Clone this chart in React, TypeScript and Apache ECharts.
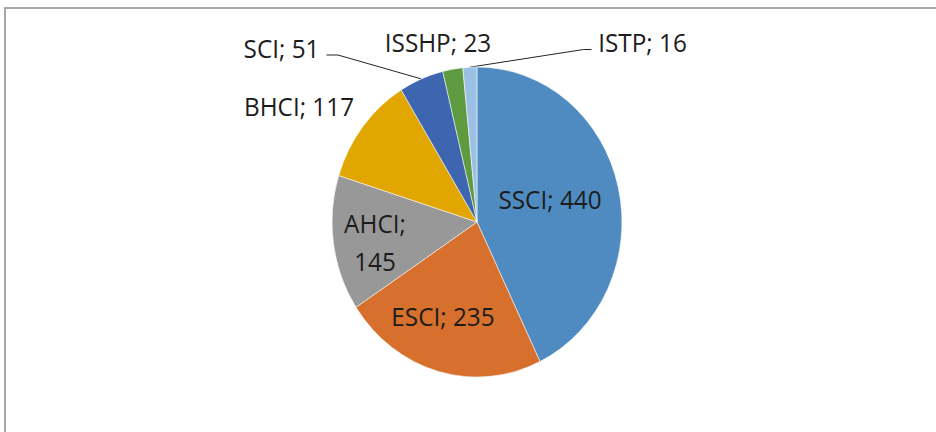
import React, { useEffect, useRef } from "react";
import * as echarts from "echarts";

// ---- data ----
const categories = ["SSCI", "ESCI", "AHCI", "BHCI", "SCI", "ISSHP", "ISTP"];
const values = [440, 235, 145, 117, 51, 23, 16];
const colors = ["#4f8bc0", "#d6702c", "#989898", "#e2a600", "#3d65b0", "#5d9a40", "#9cc0e4"];
const insideLabels = ["SSCI", "ESCI", "AHCI"];
const wrappedLabels = ["AHCI"];
const leaderLines = ["SCI", "ISTP"];

// ---- layout (page pixels) ----
const PAGE_W = 936;
const PAGE_H = 432;
const SX = 0.935; // horizontal squeeze of the original picture
const CENTER_PAGE_X = 477;
const CENTER_Y = 222;
const RADIUS = 155;

// label anchor points (page px) and leader line bends
const labelSpots: Record<string, { x: number; y: number; line?: number[][] }> = {
  SSCI: { x: 550, y: 199 },
  ESCI: { x: 443, y: 316 },
  AHCI: { x: 375, y: 241.5 },
  BHCI: { x: 299, y: 106 },
  SCI: { x: 281.5, y: 47.5, line: [[338, 55], [326.5, 55]] },
  ISSHP: { x: 438, y: 41.7 },
  ISTP: { x: 642.5, y: 41.7, line: [[583.5, 49.5], [591.5, 49.5]] },
};

export default function App() {
  const ref = useRef<HTMLDivElement>(null);

  useEffect(() => {
    document.body.style.margin = "0";
    if (!ref.current) return;
    const chart = echarts.init(ref.current, undefined, { renderer: "svg" });
    const total = values.reduce((a, b) => a + b, 0);
    const cx = CENTER_PAGE_X / SX;

    const data = categories.map((name, i) => {
      const inside = insideLabels.includes(name);
      return {
        name,
        value: values[i],
        itemStyle: { color: colors[i] },
        label: { position: inside ? "inside" : "outside" },
        labelLine: { show: leaderLines.includes(name) },
      };
    });

    chart.setOption({
      animation: false,
      backgroundColor: "#ffffff",
      series: [
        {
          type: "pie",
          center: [cx, CENTER_Y],
          radius: RADIUS,
          startAngle: 90,
          clockwise: true,
          avoidLabelOverlap: false,
          data,
          itemStyle: { borderColor: "rgba(255,255,255,0.55)", borderWidth: 1 },
          label: {
            show: true,
            color: "#1c1c1c",
            fontFamily: "Open Sans",
            fontSize: 26,
            lineHeight: 38,
            align: "center",
            formatter: (p: any) =>
              wrappedLabels.includes(p.name) ? `${p.name};\n${p.value}` : `${p.name}; ${p.value}`,
          },
          labelLine: {
            show: true,
            length: 10,
            length2: 10,
            lineStyle: { color: "#1c1c1c", width: 1 },
          },
          labelLayout: (p: any) => {
            const name = categories[p.dataIndex];
            const spot = labelSpots[name];
            if (!spot) return {};
            const res: any = {
              x: spot.x / SX,
              y: spot.y,
              align: "center",
              verticalAlign: "middle",
            };
            if (spot.line) {
              let start = p.labelLinePoints && p.labelLinePoints[0];
              if (!start) {
                let acc = 0;
                for (let k = 0; k < p.dataIndex; k++) acc += values[k];
                const mid = ((acc + values[p.dataIndex] / 2) / total) * Math.PI * 2;
                start = [cx + Math.sin(mid) * RADIUS, CENTER_Y - Math.cos(mid) * RADIUS];
              }
              res.labelLinePoints = [start, ...spot.line.map(([x, y]) => [x / SX, y])];
            }
            return res;
          },
        },
      ],
    });
    return () => chart.dispose();
  }, []);

  return (
    <div
      style={{
        position: "fixed",
        left: 0,
        top: 0,
        width: PAGE_W,
        height: PAGE_H,
        overflow: "hidden",
        background: "#ffffff",
      }}
    >
      <div
        ref={ref}
        style={{
          position: "absolute",
          left: 0,
          top: 0,
          width: PAGE_W / SX,
          height: PAGE_H,
          transform: `scaleX(${SX})`,
          transformOrigin: "0 0",
        }}
      />
      <div
        style={{
          position: "absolute",
          left: 4,
          top: 7,
          width: PAGE_W,
          height: PAGE_H,
          borderTop: "2px solid #a8a8a8",
          borderLeft: "2px solid #a8a8a8",
          pointerEvents: "none",
        }}
      />
    </div>
  );
}
